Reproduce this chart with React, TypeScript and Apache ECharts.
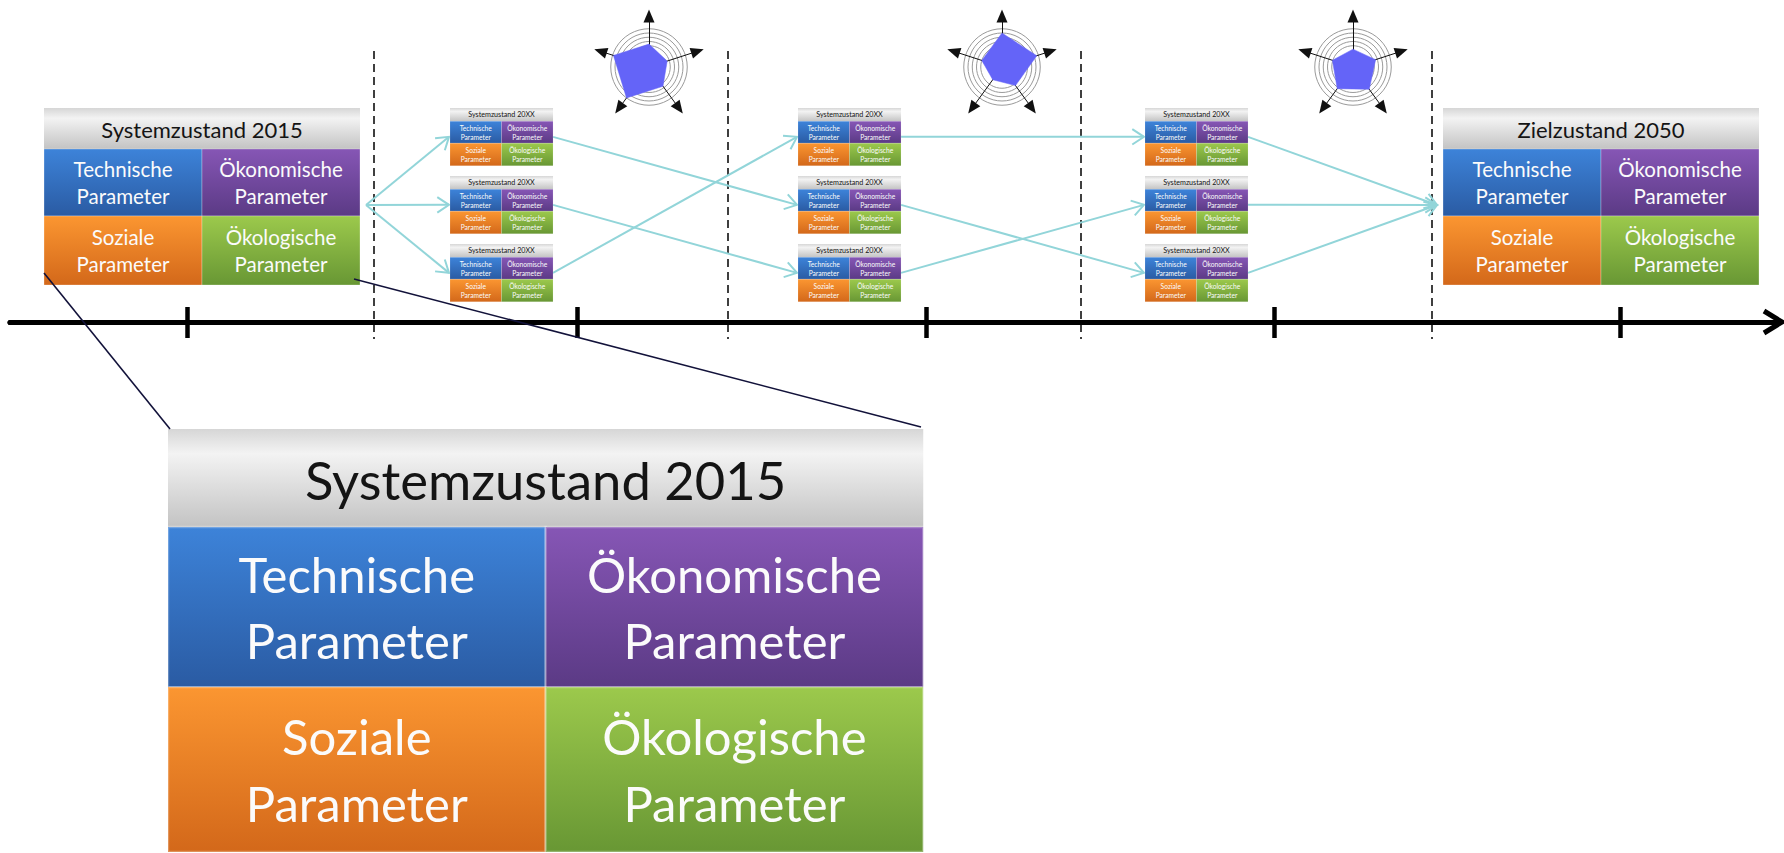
import React, { useEffect, useRef } from "react";
import * as echarts from "echarts";

// ---------------- data ----------------
const PARAMETER_LABELS = [
  "Technische\nParameter",
  "Ökonomische\nParameter",
  "Soziale\nParameter",
  "Ökologische\nParameter",
];
const START_TITLE = "Systemzustand 2015";
const STEP_TITLE = "Systemzustand 20XX";
const TARGET_TITLE = "Zielzustand 2050";

// timeline tick positions and period boundaries (along the time axis)
const TIMELINE_TICKS = [187, 577, 926, 1274, 1620];
const PERIOD_BOUNDS = [374, 728, 1081, 1432];

// radar values per intermediate stage (order: top, upper-left, lower-left, lower-right, upper-right)
const RADAR_AXES = ["A", "B", "C", "D", "E"];
const RADAR_STEP1 = [5.4, 8.8, 9.0, 5.6, 4.5];
const RADAR_STEP2 = [8.0, 5.0, 3.7, 5.4, 8.6];
const RADAR_STEP3 = [4.2, 5.1, 6.3, 6.5, 5.6];
const RADARS = [RADAR_STEP1, RADAR_STEP2, RADAR_STEP3];

// transitions: [fromStage, fromRow, toStage, toRow]; row -1 = the single start / target state
const TRANSITIONS = [
  [0, -1, 1, 0], [0, -1, 1, 1], [0, -1, 1, 2],
  [1, 0, 2, 1], [1, 1, 2, 2], [1, 2, 2, 0],
  [2, 0, 3, 0], [2, 1, 3, 2], [2, 2, 3, 1],
  [3, 0, 4, -1], [3, 1, 4, -1], [3, 2, 4, -1],
];

// ---------------- layout ----------------
const W = 1784;
const H = 853;
const AXIS_Y = 322;
const BOX_W = 316;
const BOX_H = 177;
const STAGE_X = [44, 450, 798, 1145, 1443];
const ROW_Y = [108, 176, 244];
const MAIN_TOP = 108;
const SMALL = 0.326;
const ZOOM_BOX = { x: 168, y: 429, s: 2.39 };
const START_PORT = [366, 205];
const END_PORT = [1437, 205];
const RADAR_CX = [649, 1002, 1353];
const RADAR_CY = 67;
const RADAR_R = 51;
const DASH_TOP = 51;
const DASH_BOTTOM = 339;
const ZOOM_LINES = [
  [44, 273, 170, 429],
  [354, 279, 921, 427],
];
const TIME_ARROW = [1764, 311, 1782, 322, 1764, 333];

const CYAN = "#92d5d9";
const NAVY = "#12123a";
const FONT = 'Lato, "Open Sans", sans-serif';

const CELL_GRADIENTS = [
  ["#3d83d9", "#2a5ba3"],
  ["#8656b5", "#5b3a85"],
  ["#fb9631", "#d3681a"],
  ["#9cc94c", "#689734"],
];

const yv = (py: number) => AXIS_Y - py;

type Box = { x: number; y: number; s: number; title: string };
const BOXES: Box[] = [];
BOXES.push({ x: STAGE_X[0], y: MAIN_TOP, s: 1, title: START_TITLE });
for (let st = 1; st <= 3; st++) {
  for (let r = 0; r < 3; r++) {
    BOXES.push({ x: STAGE_X[st], y: ROW_Y[r], s: SMALL, title: STEP_TITLE });
  }
}
BOXES.push({ x: STAGE_X[4], y: MAIN_TOP, s: 1, title: TARGET_TITLE });
BOXES.push({ x: ZOOM_BOX.x, y: ZOOM_BOX.y, s: ZOOM_BOX.s, title: START_TITLE });

function port(stage: number, row: number, out: boolean): number[] {
  if (row < 0) return stage === 0 ? START_PORT : END_PORT;
  const x = STAGE_X[stage] + (out ? BOX_W * SMALL : -1);
  const y = ROW_Y[row] + (BOX_H * SMALL) / 2;
  return [x, y];
}

const linkData = TRANSITIONS.map(([fs, fr, ts, tr]) => {
  const a = port(fs, fr, true);
  const b = port(ts, tr, false);
  return [a[0], yv(a[1]), b[0], yv(b[1])];
});

const boxData = BOXES.map((b) => [
  b.x,
  yv(b.y),
  b.x + BOX_W * b.s,
  yv(b.y + BOX_H * b.s),
]);

const dashData = PERIOD_BOUNDS.map((x) => [x, yv(DASH_TOP), x, yv(DASH_BOTTOM)]);
const zoomLineData = ZOOM_LINES.map(([x1, y1, x2, y2]) => [x1, yv(y1), x2, yv(y2)]);
const arrowData = [[TIME_ARROW[0], yv(TIME_ARROW[1]), TIME_ARROW[2], yv(TIME_ARROW[3]), TIME_ARROW[4], yv(TIME_ARROW[5])]];

function grad(c0: string, c1: string) {
  return new echarts.graphic.LinearGradient(0, 0, 0, 1, [
    { offset: 0, color: c0 },
    { offset: 1, color: c1 },
  ]);
}

function renderSegment(color: string, width: number, dash?: number[]) {
  return (params: any, api: any) => {
    const a = api.coord([api.value(0), api.value(1)]);
    const b = api.coord([api.value(2), api.value(3)]);
    return {
      type: "line",
      shape: { x1: a[0], y1: a[1], x2: b[0], y2: b[1] },
      style: { stroke: color, lineWidth: width, lineDash: dash || null },
    };
  };
}

function renderLink(params: any, api: any) {
  const a = api.coord([api.value(0), api.value(1)]);
  const b = api.coord([api.value(2), api.value(3)]);
  const ang = Math.atan2(b[1] - a[1], b[0] - a[0]);
  const L = 14;
  const sp = 0.58;
  const p1 = [b[0] - L * Math.cos(ang - sp), b[1] - L * Math.sin(ang - sp)];
  const p2 = [b[0] - L * Math.cos(ang + sp), b[1] - L * Math.sin(ang + sp)];
  return {
    type: "group",
    children: [
      {
        type: "line",
        shape: { x1: a[0], y1: a[1], x2: b[0], y2: b[1] },
        style: { stroke: CYAN, lineWidth: 2 },
      },
      {
        type: "polyline",
        shape: { points: [p1, b, p2] },
        style: { stroke: CYAN, lineWidth: 2, fill: "none" },
      },
    ],
  };
}

function renderArrow(params: any, api: any) {
  const p1 = api.coord([api.value(0), api.value(1)]);
  const p2 = api.coord([api.value(2), api.value(3)]);
  const p3 = api.coord([api.value(4), api.value(5)]);
  return {
    type: "polyline",
    shape: { points: [p1, p2, p3] },
    style: { stroke: "#000", lineWidth: 5, fill: "none", lineJoin: "miter" },
  };
}

function renderBox(params: any, api: any) {
  const box = BOXES[params.dataIndex];
  const p = api.coord([api.value(0), api.value(1)]);
  const q = api.coord([api.value(2), api.value(3)]);
  const w = q[0] - p[0];
  const h = q[1] - p[1];
  const s = w / BOX_W;
  const hh = 41 * s;
  const r1 = 67 * s;
  const r2 = h - hh - r1;
  const half = w / 2;
  const sep = Math.max(0.5, s);
  const children: any[] = [
    {
      type: "rect",
      shape: { x: 0, y: 0, width: w, height: hh },
      style: {
        fill: new echarts.graphic.LinearGradient(0, 0, 0, 1, [
          { offset: 0, color: "#d6d6d6" },
          { offset: 0.25, color: "#f3f3f3" },
          { offset: 1, color: "#c3c3c3" },
        ]),
      },
    },
    {
      type: "text",
      x: w / 2,
      y: hh / 2 + 0.5 * s,
      style: {
        text: box.title,
        fill: "#141414",
        fontSize: 22 * s,
        fontFamily: FONT,
        align: "center",
        verticalAlign: "middle",
      },
    },
  ];
  const cells = [
    [0, hh, r1],
    [half, hh, r1],
    [0, hh + r1, r2],
    [half, hh + r1, r2],
  ];
  cells.forEach(([cx, cy, ch], i) => {
    children.push({
      type: "rect",
      shape: { x: cx, y: cy, width: half, height: ch },
      style: {
        fill: grad(CELL_GRADIENTS[i][0], CELL_GRADIENTS[i][1]),
        stroke: "rgba(255,255,255,0.28)",
        lineWidth: sep,
      },
    });
    children.push({
      type: "text",
      x: cx + half / 2,
      y: cy + ch / 2,
      style: {
        text: PARAMETER_LABELS[i],
        fill: "#fbfbfb",
        fontSize: 20.5 * s,
        lineHeight: 27.7 * s,
        fontFamily: FONT,
        align: "center",
        verticalAlign: "middle",
      },
    });
  });
  return { type: "group", x: p[0], y: p[1], children };
}

const CLEAR = "rgba(0,0,0,0)";
const RING = "#9a9a9a";
const RING_COLORS = [
  CLEAR, CLEAR, CLEAR, CLEAR, CLEAR,
  RING, RING, RING, RING, RING,
  CLEAR, CLEAR, CLEAR,
];

export default function App() {
  const ref = useRef<HTMLDivElement>(null);
  useEffect(() => {
    document.body.style.margin = "0";
    if (!ref.current) return;
    const chart = echarts.init(ref.current, null, { renderer: "svg" });
    const xAxisBase = (inside: boolean, len: number) => ({
      type: "value",
      min: 10,
      max: 1780,
      position: "bottom",
      axisLine: {
        show: true,
        onZero: true,
        onZeroAxisIndex: 0,
        lineStyle: { color: "#000", width: 5 },
      },
      axisTick: {
        show: true,
        inside,
        length: len,
        customValues: TIMELINE_TICKS,
        lineStyle: { color: "#000", width: 4.5 },
      },
      axisLabel: { show: false },
      splitLine: { show: false },
    });
    const option: any = {
      animation: false,
      backgroundColor: "#ffffff",
      tooltip: { show: false },
      grid: { left: 10, top: 0, width: 1770, height: H, containLabel: false },
      xAxis: [xAxisBase(false, 16), xAxisBase(true, 15)],
      yAxis: { type: "value", min: AXIS_Y - H, max: AXIS_Y, show: false },
      radar: RADAR_CX.map((cx) => ({
        center: [cx, RADAR_CY],
        radius: RADAR_R,
        startAngle: 90,
        splitNumber: 12,
        shape: "circle",
        indicator: RADAR_AXES.map((n) => ({ name: n, min: 0, max: 12 })),
        axisName: { show: false },
        axisLine: {
          show: true,
          symbol: ["none", "triangle"],
          symbolSize: [11, 13],
          lineStyle: { color: "#111", width: 1 },
        },
        axisTick: { show: false },
        axisLabel: { show: false },
        splitLine: { show: true, lineStyle: { color: RING_COLORS, width: 1 } },
        splitArea: { show: false },
      })),
      series: [
        {
          type: "custom",
          name: "periods",
          coordinateSystem: "cartesian2d",
          renderItem: renderSegment("#000", 1.5, [8, 5]),
          data: dashData,
          z: 1,
          silent: true,
          clip: false,
        },
        {
          type: "custom",
          name: "links",
          coordinateSystem: "cartesian2d",
          renderItem: renderLink,
          data: linkData,
          z: 3,
          silent: true,
          clip: false,
        },
        {
          type: "custom",
          name: "states",
          coordinateSystem: "cartesian2d",
          renderItem: renderBox,
          data: boxData,
          z: 4,
          silent: true,
          clip: false,
        },
        {
          type: "custom",
          name: "zoom",
          coordinateSystem: "cartesian2d",
          renderItem: renderSegment(NAVY, 1.6),
          data: zoomLineData,
          z: 6,
          silent: true,
          clip: false,
        },
        {
          type: "custom",
          name: "timeArrow",
          coordinateSystem: "cartesian2d",
          renderItem: renderArrow,
          data: arrowData,
          z: 5,
          silent: true,
          clip: false,
        },
        ...RADARS.map((vals, i) => ({
          type: "radar",
          radarIndex: i,
          symbol: "none",
          silent: true,
          lineStyle: { color: "#6464f8", width: 0.5 },
          areaStyle: { color: "#6464f8", opacity: 1 },
          data: [{ value: vals }],
        })),
      ],
    };
    chart.setOption(option);
    return () => chart.dispose();
  }, []);
  return <div ref={ref} style={{ width: W, height: H }} />;
}
